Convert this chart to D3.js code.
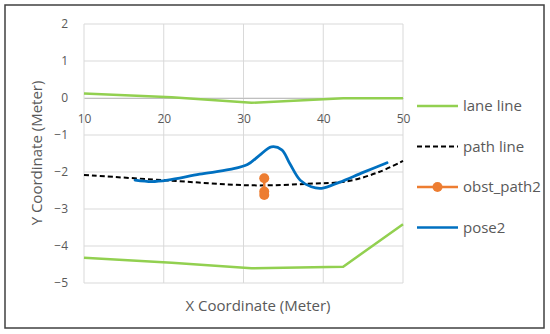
<!DOCTYPE html>
<html>
<head>
<meta charset="utf-8">
<script src="https://cdn.jsdelivr.net/npm/d3@7"></script>
<style>
  body { margin: 0; background: #fff; }
  svg text { font-family: "Open Sans", "Noto Sans", sans-serif; fill: #595959; }
</style>
</head>
<body>
<div id="chartArea"></div>
<script>
// data (x, y in meters)
var xTicks = [10, 20, 30, 40, 50];
var yTicks = [2, 1, 0, -1, -2, -3, -4, -5];

var laneTop = [[10, 0.12], [21, 0.02], [31, -0.13], [42.5, -0.01], [50, -0.01]];
var laneBottom = [[10, -4.32], [21, -4.45], [31, -4.6], [42.5, -4.56], [50, -3.41]];
var pathLine = [[10, -2.08], [20, -2.22], [31, -2.36], [38, -2.32], [43, -2.25], [47, -2.0], [50, -1.7]];
var obstPath2 = [[32.6, -2.17], [32.6, -2.53], [32.6, -2.62]];
var pose2 = [[16.4, -2.22], [18.5, -2.26], [20.5, -2.22], [24.5, -2.06], [28.3, -1.93], [30.5, -1.8],
             [32, -1.55], [33.5, -1.32], [34.8, -1.4], [35.8, -1.77], [37.1, -2.22], [38.5, -2.4],
             [39.8, -2.44], [42, -2.28], [45, -2.01], [48, -1.75]];

var legendItems = [
    {name: 'lane line', color: '#92D050', dash: null, dot: false},
    {name: 'path line', color: '#000000', dash: '5,3', dot: false},
    {name: 'obst_path2', color: '#ED7D31', dash: null, dot: true},
    {name: 'pose2', color: '#0070C0', dash: null, dot: false}
];

var svg = d3.select('#chartArea').append('svg')
    .attr('width', 550).attr('height', 334);

// outer frame
svg.append('rect')
    .attr('x', 5).attr('y', 5).attr('width', 539).attr('height', 323)
    .attr('fill', 'none').attr('stroke', '#404040').attr('stroke-width', 1.5);

var x = d3.scaleLinear().domain([10, 50]).range([84, 403]);
var y = d3.scaleLinear().domain([-5, 2]).range([283, 24]);

// grid
svg.append('g').selectAll('line').data(yTicks).enter().append('line')
    .attr('x1', x(10)).attr('x2', x(50))
    .attr('y1', function(d) { return y(d); }).attr('y2', function(d) { return y(d); })
    .attr('stroke', '#d9d9d9').attr('stroke-width', 1);
svg.append('g').selectAll('line').data(xTicks).enter().append('line')
    .attr('y1', y(2)).attr('y2', y(-5))
    .attr('x1', function(d) { return x(d); }).attr('x2', function(d) { return x(d); })
    .attr('stroke', '#d9d9d9').attr('stroke-width', 1);

// x axis sits at y = 0
var xAxis = svg.append('g')
    .attr('transform', 'translate(0,' + y(0) + ')')
    .call(d3.axisBottom(x).tickValues(xTicks).tickSize(0).tickPadding(16));
xAxis.select('.domain').attr('stroke', '#bfbfbf');
xAxis.selectAll('text').style('font-size', '12px').attr('fill', '#595959');

var yAxis = svg.append('g')
    .attr('transform', 'translate(' + x(10) + ',0)')
    .call(d3.axisLeft(y).tickValues(yTicks).tickSize(0).tickPadding(16).tickFormat(d3.format('d')));
yAxis.select('.domain').remove();
yAxis.selectAll('text').style('font-size', '12px').attr('fill', '#595959');

// axis titles
svg.append('text')
    .attr('x', 258).attr('y', 311)
    .style('text-anchor', 'middle').style('font-size', '15px')
    .text('X Coordinate (Meter)');
svg.append('text')
    .attr('transform', 'translate(42,' + 153 + ') rotate(-90)')
    .style('text-anchor', 'middle').style('font-size', '15px')
    .text('Y Coordinate (Meter)');

var line = d3.line().x(function(d) { return x(d[0]); }).y(function(d) { return y(d[1]); });
var smooth = d3.line().curve(d3.curveCatmullRom.alpha(0.5))
    .x(function(d) { return x(d[0]); }).y(function(d) { return y(d[1]); });

svg.append('path').attr('d', line(laneTop))
    .attr('fill', 'none').attr('stroke', '#92D050').attr('stroke-width', 2.5);
svg.append('path').attr('d', line(laneBottom))
    .attr('fill', 'none').attr('stroke', '#92D050').attr('stroke-width', 2.5);

svg.append('path').attr('d', smooth(pathLine))
    .attr('fill', 'none').attr('stroke', '#000').attr('stroke-width', 2)
    .attr('stroke-dasharray', '5,3');

svg.append('path').attr('d', smooth(pose2))
    .attr('fill', 'none').attr('stroke', '#0070C0').attr('stroke-width', 2.75)
    .attr('stroke-linecap', 'round');

svg.append('path').attr('d', line(obstPath2))
    .attr('fill', 'none').attr('stroke', '#ED7D31').attr('stroke-width', 2.5);
svg.append('g').selectAll('circle').data(obstPath2).enter().append('circle')
    .attr('cx', function(d) { return x(d[0]); })
    .attr('cy', function(d) { return y(d[1]); })
    .attr('r', 5).attr('fill', '#ED7D31');

// legend
var legend = svg.append('g').selectAll('g').data(legendItems).enter().append('g')
    .attr('transform', function(d, i) { return 'translate(417,' + (106 + i * 40.5) + ')'; });
legend.append('line')
    .attr('x1', 0).attr('x2', 41).attr('y1', 0).attr('y2', 0)
    .attr('stroke', function(d) { return d.color; })
    .attr('stroke-width', function(d) { return d.dash ? 2 : 2.5; })
    .attr('stroke-dasharray', function(d) { return d.dash; });
legend.filter(function(d) { return d.dot; }).append('circle')
    .attr('cx', 20.5).attr('cy', 0).attr('r', 5).attr('fill', function(d) { return d.color; });
legend.append('text')
    .attr('x', 46).attr('y', 0).attr('dy', '0.35em')
    .style('font-size', '15px')
    .text(function(d) { return d.name; });
</script>
</body>
</html>
